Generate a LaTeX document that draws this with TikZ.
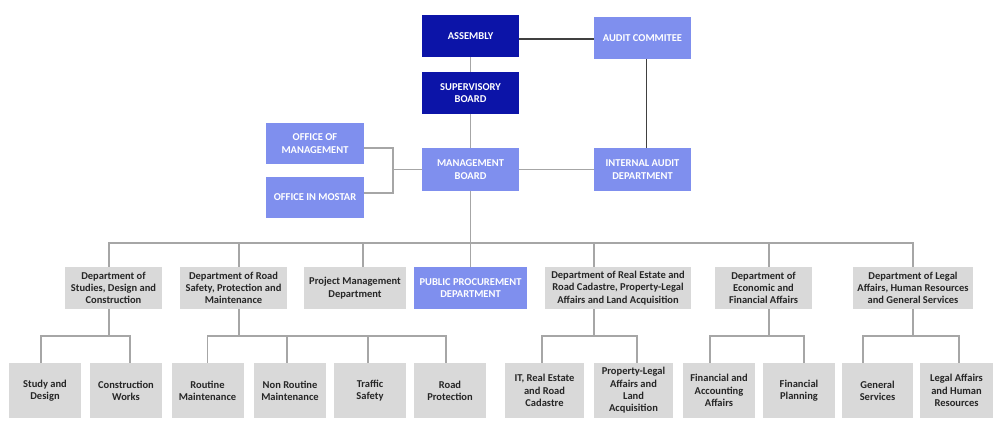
\documentclass[tikz,border=0pt]{standalone}
\usepackage{fontspec}
\setmainfont{Carlito}
\usepackage{tikz}
\usetikzlibrary{positioning}

\definecolor{navybox}{RGB}{12,20,168}
\definecolor{lightbox}{RGB}{127,143,238}
\definecolor{greybox}{RGB}{217,217,217}
\definecolor{greyline}{RGB}{166,166,166}
\definecolor{darkline}{RGB}{64,64,64}

\begin{document}
\begin{tikzpicture}[
    x=1pt, y=-1pt,
    every node/.style={font=\bfseries\fontsize{10.5}{12.3}\selectfont, align=center, inner sep=1pt},
    navy/.style={rectangle, fill=navybox, text=white, minimum width=97pt, minimum height=42pt},
    light/.style={rectangle, fill=lightbox, text=white, minimum width=97pt, minimum height=42pt},
    dept/.style={rectangle, fill=greybox, text=black!85, minimum height=42pt},
    unit/.style={rectangle, fill=greybox, text=black!85, minimum width=72pt, minimum height=55pt},
    line/.style={draw=greyline, line width=1.5pt},
    auditline/.style={draw=darkline, line width=1.5pt}
]
    \useasboundingbox (0,0) rectangle (1000,425);

    % Top of the organisation
    \node[navy] (asm) at (470.5,36) {ASSEMBLY};
    \node[light] (audit) at (642.5,38) {AUDIT COMMITEE};
    \node[navy] (sup) at (470.5,93) {SUPERVISORY\\BOARD};
    \node[light, minimum height=43pt] (mgmt) at (470.5,169.5) {MANAGEMENT\\BOARD};
    \node[light, minimum height=43pt] (iad) at (642.5,169.5) {INTERNAL AUDIT\\DEPARTMENT};

    % Offices
    \node[light, minimum width=98pt, minimum height=41pt] (offm) at (315,143.5) {OFFICE OF\\MANAGEMENT};
    \node[light, minimum width=98pt, minimum height=41pt] (offmo) at (315,197.5) {OFFICE IN MOSTAR};

    % Departments
    \node[dept, minimum width=97pt] (d1) at (113.5,288) {Department of\\Studies, Design and\\Construction};
    \node[dept, minimum width=107pt] (d2) at (233.5,288) {Department of Road\\Safety, Protection and\\Maintenance};
    \node[dept, minimum width=102pt] (d3) at (355,288) {Project Management\\Department};
    \node[rectangle, fill=lightbox, text=white, minimum width=113pt, minimum height=42pt] (d4) at (470.5,288) {PUBLIC PROCUREMENT\\DEPARTMENT};
    \node[dept, minimum width=146pt] (d5) at (618,288) {Department of Real Estate and\\Road Cadastre, Property-Legal\\Affairs and Land Acquisition};
    \node[dept, minimum width=97pt] (d6) at (763.5,288) {Department of\\Economic and\\Financial Affairs};
    \node[dept, minimum width=120pt] (d7) at (913,288) {Department of Legal\\Affairs, Human Resources\\and General Services};

    % Sections
    \node[unit] (sd) at (45,390.5) {Study and\\Design};
    \node[unit] (cw) at (126,390.5) {Construction\\Works};
    \node[unit] (rm) at (207.5,390.5) {Routine\\Maintenance};
    \node[unit] (nrm) at (290,390.5) {Non Routine\\Maintenance};
    \node[unit] (ts) at (370,390.5) {Traffic\\Safety};
    \node[unit] (rp) at (450,390.5) {Road\\Protection};
    \node[unit, minimum width=79pt] (it) at (544.5,390.5) {IT, Real Estate\\and Road\\Cadastre};
    \node[unit, minimum width=79pt] (pl) at (633.5,390.5) {Property-Legal\\Affairs and\\Land\\Acquisition};
    \node[unit] (fa) at (719,390.5) {Financial and\\Accounting\\Affairs};
    \node[unit] (fp) at (799,390.5) {Financial\\Planning};
    \node[unit, minimum width=71pt] (gs) at (877.5,390.5) {General\\Services};
    \node[unit, minimum width=73pt] (lh) at (956.5,390.5) {Legal Affairs\\and Human\\Resources};

    \coordinate (topbus) at (0,243);
    \coordinate (lowbus) at (0,336);
    \coordinate (ofj) at ([xshift=-29pt]mgmt.west);

    % Connectors, top
    \draw[auditline] ([yshift=-3pt]asm.east) -- ([yshift=-3pt]asm.east -| audit.west);
    \draw[auditline] ([xshift=4pt]audit.south) -- ([xshift=4pt]iad.north);
    \draw[line] (asm.south) -- (sup.north);
    \draw[line] (sup.south) -- (mgmt.north);
    \draw[line] (mgmt.east) -- (iad.west);
    \draw[line] (mgmt.west) -- (ofj);
    \draw[line] ([yshift=-4.5pt]offm.east) -| (ofj) |- ([yshift=4.5pt]offmo.east);

    % Connectors to departments
    \draw[line] (mgmt.south) -- (d4.north);
    \draw[line] ([xshift=-4.5pt]d1.north) |- (d7.north |- topbus) -- (d7.north);
    \draw[line] ([xshift=5.5pt]d2.north) -- ([xshift=5.5pt]d2.north |- topbus);
    \draw[line] ([xshift=8pt]d3.north) -- ([xshift=8pt]d3.north |- topbus);
    \draw[line] ([xshift=-24pt]d5.north) -- ([xshift=-24pt]d5.north |- topbus);
    \draw[line] ([xshift=5.5pt]d6.north) -- ([xshift=5.5pt]d6.north |- topbus);

    % Connectors to sections
    \draw[line] ([xshift=-4.5pt]d1.south) -- ([xshift=-4.5pt]d1.south |- lowbus);
    \draw[line] ([xshift=-4pt]sd.north) |- ([xshift=4pt]cw.north |- lowbus) -- ([xshift=4pt]cw.north);
    \draw[line] ([xshift=5.5pt]d2.south) -- ([xshift=5.5pt]d2.south |- lowbus);
    \draw[line] (rm.north) |- ([xshift=-4pt]rp.north |- lowbus) -- ([xshift=-4pt]rp.north);
    \draw[line] ([xshift=-3pt]nrm.north) -- ([xshift=-3pt]nrm.north |- lowbus);
    \draw[line] ([xshift=-2pt]ts.north) -- ([xshift=-2pt]ts.north |- lowbus);
    \draw[line] ([xshift=-24pt]d5.south) -- ([xshift=-24pt]d5.south |- lowbus);
    \draw[line] ([xshift=-2.5pt]it.north) |- ([xshift=3.5pt]pl.north |- lowbus) -- ([xshift=3.5pt]pl.north);
    \draw[line] ([xshift=5.5pt]d6.south) -- ([xshift=5.5pt]d6.south |- lowbus);
    \draw[line] ([xshift=-9pt]fa.north) |- ([xshift=5pt]fp.north |- lowbus) -- ([xshift=5pt]fp.north);
    \draw[line] (d7.south) -- (d7.south |- lowbus);
    \draw[line] ([xshift=-14.5pt]gs.north) |- ([xshift=2.5pt]lh.north |- lowbus) -- ([xshift=2.5pt]lh.north);
\end{tikzpicture}
\end{document}
